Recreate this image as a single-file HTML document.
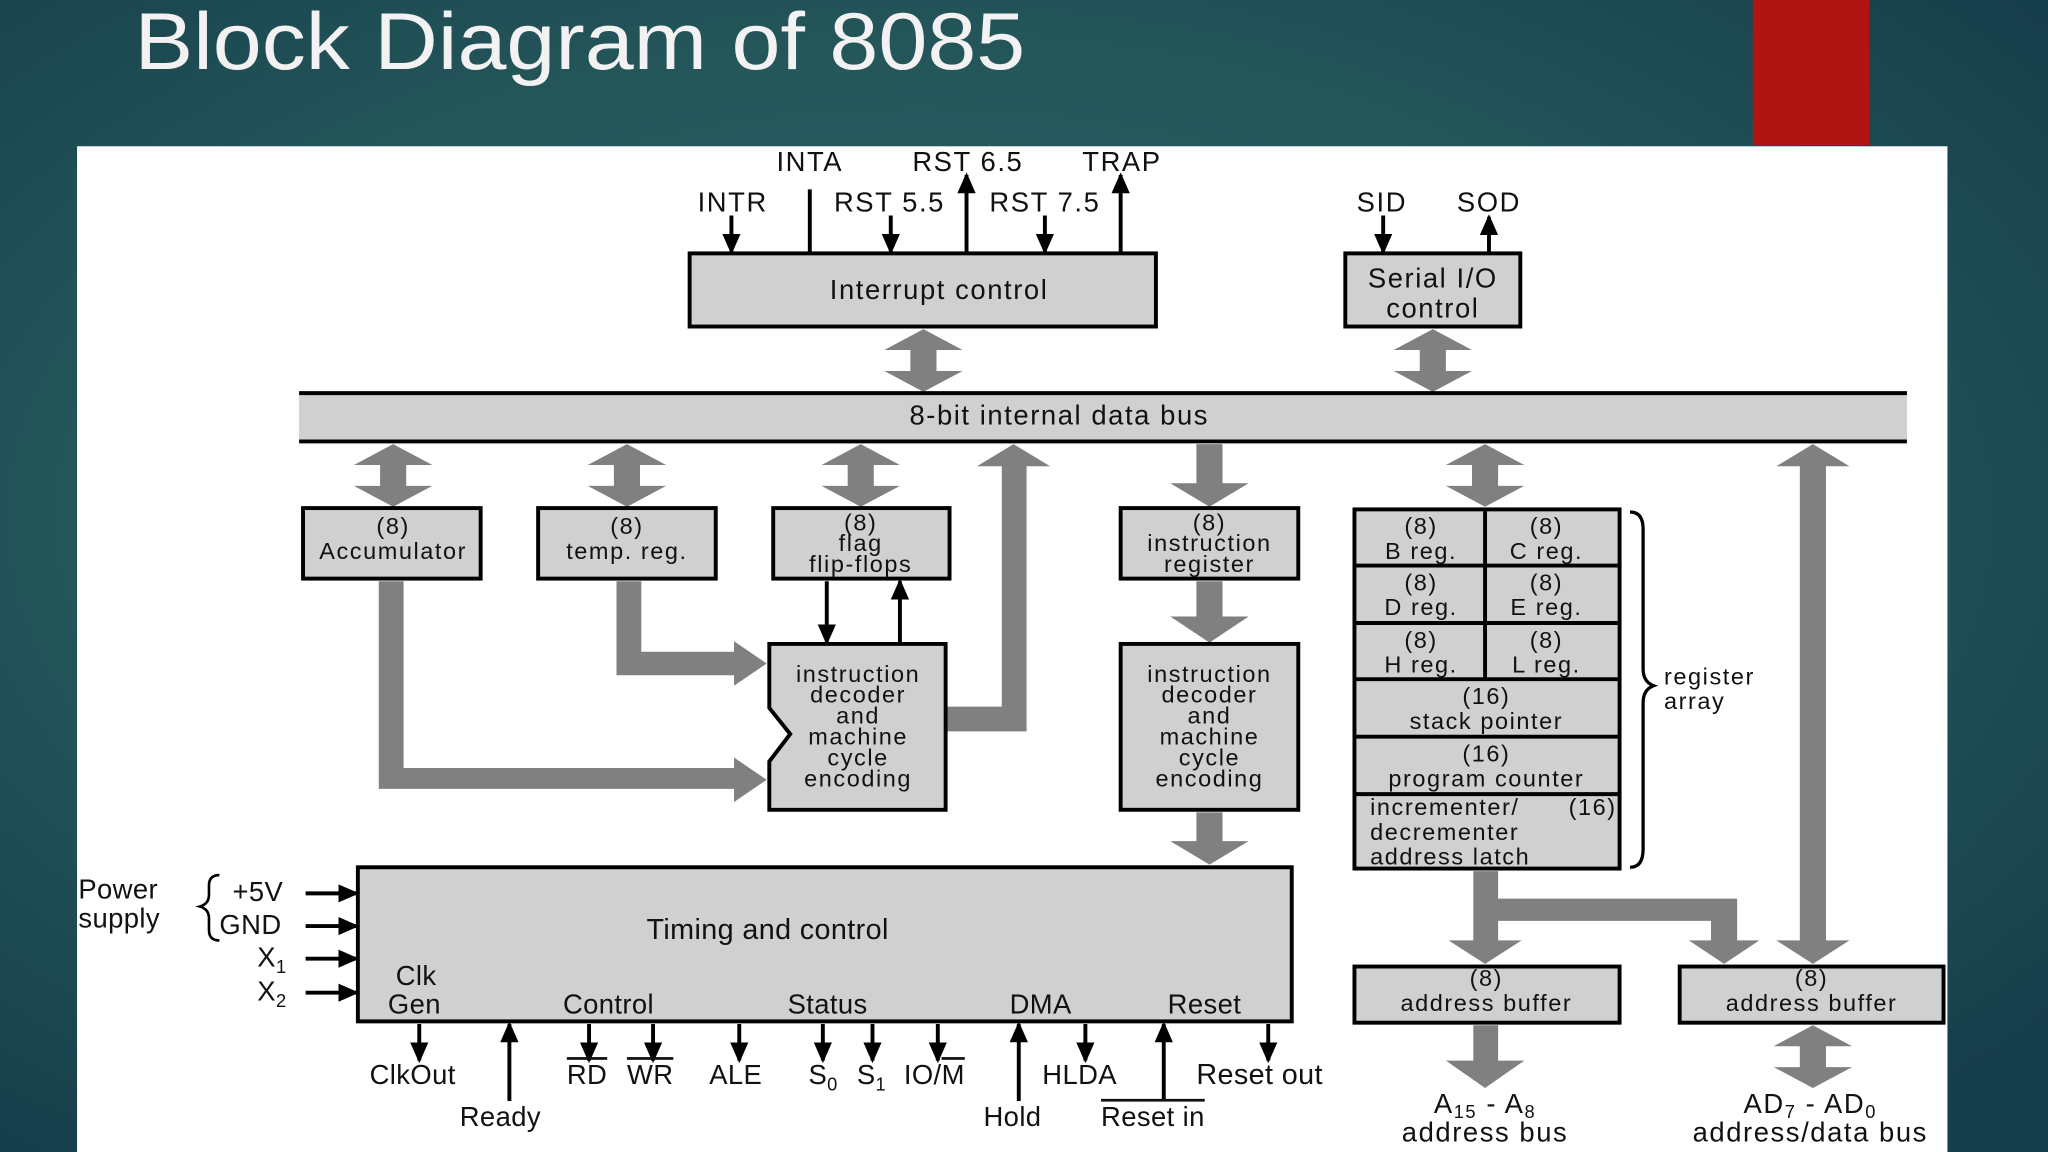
<!DOCTYPE html>
<html><head><meta charset="utf-8"><style>
html,body{margin:0;padding:0;width:2048px;height:1152px;overflow:hidden;background:#1d4853}
svg{display:block}
text{font-family:"Liberation Sans",Arial,sans-serif;fill:#111}
.d text{letter-spacing:1.2px}
</style></head><body>
<svg width="2048" height="1152" viewBox="0 0 1568 882" xmlns="http://www.w3.org/2000/svg">
<defs>
<radialGradient id="bg" cx="0.45" cy="0.45" r="0.7">
<stop offset="0" stop-color="#2e6468"/><stop offset="0.6" stop-color="#235559"/><stop offset="1" stop-color="#173e4b"/>
</radialGradient>
<marker id="ah" markerWidth="16" markerHeight="16" refX="14" refY="8" orient="auto" markerUnits="userSpaceOnUse" viewBox="0 0 16 16"><path d="M0,1 L16,8 L0,15 Z" fill="#000"/></marker>
</defs>
<rect width="1568" height="882" fill="url(#bg)"/>
<rect x="1342" y="0" width="89" height="111" fill="#b01514"/>
<text x="103" y="53" font-size="62" style="fill:#f2f2f2" textLength="682" lengthAdjust="spacingAndGlyphs">Block Diagram of 8085</text>
<rect x="59" y="112" width="1432" height="770" fill="#fff"/>

<g fill="#808080">
<path d="M707,252 L737,268 L717,268 L717,284 L737,284 L707,300 L677,284 L697,284 L697,268 L677,268Z"/>
<path d="M1097,252 L1127,268 L1107,268 L1107,284 L1127,284 L1097,300 L1067,284 L1087,284 L1087,268 L1067,268Z"/>
<path d="M301,340 L331,356 L311,356 L311,372 L331,372 L301,388 L271,372 L291,372 L291,356 L271,356Z"/>
<path d="M480,340 L510,356 L490,356 L490,372 L510,372 L480,388 L450,372 L470,372 L470,356 L450,356Z"/>
<path d="M659,340 L689,356 L669,356 L669,372 L689,372 L659,388 L629,372 L649,372 L649,356 L629,356Z"/>
<path d="M1137,340 L1167,356 L1147,356 L1147,372 L1167,372 L1137,388 L1107,372 L1127,372 L1127,356 L1107,356Z"/>
<path d="M1388,785 L1418,801 L1398,801 L1398,817 L1418,817 L1388,833 L1358,817 L1378,817 L1378,801 L1358,801Z"/>
<path d="M916,340 L936,340 L936,370 L956,370 L926,388 L896,370 L916,370Z"/>
<path d="M916,445 L936,445 L936,472 L956,472 L926,492 L896,472 L916,472Z"/>
<path d="M916,622 L936,622 L936,644 L956,644 L926,662 L896,644 L916,644Z"/>
<path d="M1128,785 L1147,785 L1147,812 L1167,812 L1137,833 L1107,812 L1128,812Z"/>
<path d="M724,541 L767,541 L767,357 L748,357 L776,340 L804,357 L786,357 L786,560 L724,560Z"/>
<path d="M1388,340 L1416,357 L1398,357 L1398,720 L1416,720 L1388,738 L1360,720 L1378,720 L1378,357 L1360,357Z"/>
<path d="M290,445 L309,445 L309,588 L562,588 L562,580 L587,597 L562,614 L562,604 L290,604Z"/>
<path d="M472,445 L491,445 L491,499 L562,499 L562,491 L587,508 L562,525 L562,517 L472,517Z"/>
<path d="M1128,667 L1147,667 L1147,688 L1330,688 L1330,720 L1347,720 L1320,738 L1293,720 L1310,720 L1310,705 L1147,705 L1147,720 L1165,720 L1137,738 L1109,720 L1128,720Z"/>
</g>

<g stroke="#000" stroke-width="3" fill="#d0d0d0">
<rect x="528" y="194" width="357" height="56"/>
<rect x="1030" y="194" width="134" height="56"/>
<rect x="232" y="389" width="136" height="54"/>
<rect x="412" y="389" width="136" height="54"/>
<rect x="592" y="389" width="135" height="54"/>
<rect x="858" y="389" width="136" height="54"/>
<path d="M589,493 L724,493 L724,620 L589,620 L589,583 L605,562 L589,542 Z"/>
<rect x="858" y="493" width="136" height="127"/>
<rect x="1037" y="390" width="203" height="275"/>
<rect x="274" y="664" width="715" height="118"/>
<rect x="1037" y="740" width="203" height="43"/>
<rect x="1286" y="740" width="202" height="43"/>
</g>
<rect x="229" y="301" width="1231" height="37" fill="#d0d0d0"/>
<g stroke="#000" stroke-width="3" fill="none">
<line x1="229" y1="301" x2="1460" y2="301"/><line x1="229" y1="338" x2="1460" y2="338"/>
<line x1="1137" y1="390" x2="1137" y2="520"/>
<line x1="1037" y1="433" x2="1240" y2="433"/>
<line x1="1037" y1="477" x2="1240" y2="477"/>
<line x1="1037" y1="520" x2="1240" y2="520"/>
<line x1="1037" y1="564" x2="1240" y2="564"/>
<line x1="1037" y1="608" x2="1240" y2="608"/>
<path d="M1248,392 Q1258,392 1258,405 L1258,512 Q1258,522 1266,525 Q1258,528 1258,538 L1258,650 Q1258,664 1248,664" stroke-width="2.5"/>
<path d="M168,670 Q160,670 160,678 L160,685 Q160,692 153,694 Q160,696 160,703 L160,712 Q160,720 168,720" stroke-width="2"/>
</g>

<g stroke="#000" stroke-width="3" marker-end="url(#ah)">
<line x1="633" y1="445" x2="633" y2="492"/>
<line x1="689" y1="492" x2="689" y2="445"/>
<line x1="560" y1="165" x2="560" y2="193"/>
<line x1="682" y1="165" x2="682" y2="193"/>
<line x1="740" y1="193" x2="740" y2="134"/>
<line x1="800" y1="165" x2="800" y2="193"/>
<line x1="858" y1="193" x2="858" y2="134"/>
<line x1="1059" y1="165" x2="1059" y2="193"/>
<line x1="1140" y1="193" x2="1140" y2="166"/>
<line x1="234" y1="684" x2="273" y2="684"/>
<line x1="234" y1="709" x2="273" y2="709"/>
<line x1="234" y1="734" x2="273" y2="734"/>
<line x1="234" y1="760" x2="273" y2="760"/>
<line x1="321" y1="784" x2="321" y2="812"/>
<line x1="390" y1="843" x2="390" y2="784"/>
<line x1="451" y1="784" x2="451" y2="812"/>
<line x1="500" y1="784" x2="500" y2="812"/>
<line x1="566" y1="784" x2="566" y2="812"/>
<line x1="630" y1="784" x2="630" y2="812"/>
<line x1="668" y1="784" x2="668" y2="812"/>
<line x1="718" y1="784" x2="718" y2="812"/>
<line x1="780" y1="843" x2="780" y2="784"/>
<line x1="831" y1="784" x2="831" y2="812"/>
<line x1="891" y1="843" x2="891" y2="784"/>
<line x1="971" y1="784" x2="971" y2="812"/>
</g>
<line x1="620" y1="145" x2="620" y2="194" stroke="#000" stroke-width="3"/>

<g class="d">
<g font-size="21" text-anchor="middle">
<text x="620" y="131">INTA</text>
<text x="741" y="131">RST 6.5</text>
<text x="859" y="131">TRAP</text>
<text x="561" y="162">INTR</text>
<text x="681" y="162">RST 5.5</text>
<text x="800" y="162">RST 7.5</text>
<text x="1058" y="162">SID</text>
<text x="1140" y="162">SOD</text>
<text x="719" y="229">Interrupt control</text>
<text x="1097" y="220">Serial I/O</text>
<text x="1097" y="243">control</text>
<text x="811" y="325">8-bit internal data bus</text>
</g>
<g font-size="18" text-anchor="middle">
<text x="301" y="409">(8)</text><text x="301" y="428">Accumulator</text>
<text x="480" y="409">(8)</text><text x="480" y="428">temp. reg.</text>
<text x="659" y="406">(8)</text><text x="659" y="422">flag</text><text x="659" y="438">flip-flops</text>
<text x="926" y="406">(8)</text><text x="926" y="422">instruction</text><text x="926" y="438">register</text>
<text x="657" y="522">instruction</text><text x="657" y="538">decoder</text><text x="657" y="554">and</text><text x="657" y="570">machine</text><text x="657" y="586">cycle</text><text x="657" y="602">encoding</text>
<text x="926" y="522">instruction</text><text x="926" y="538">decoder</text><text x="926" y="554">and</text><text x="926" y="570">machine</text><text x="926" y="586">cycle</text><text x="926" y="602">encoding</text>
<text x="1088" y="409">(8)</text><text x="1088" y="428">B reg.</text>
<text x="1184" y="409">(8)</text><text x="1184" y="428">C reg.</text>
<text x="1088" y="452">(8)</text><text x="1088" y="471">D reg.</text>
<text x="1184" y="452">(8)</text><text x="1184" y="471">E reg.</text>
<text x="1088" y="496">(8)</text><text x="1088" y="515">H reg.</text>
<text x="1184" y="496">(8)</text><text x="1184" y="515">L reg.</text>
<text x="1138" y="539">(16)</text><text x="1138" y="558">stack pointer</text>
<text x="1138" y="583">(16)</text><text x="1138" y="602">program counter</text>
<text x="1138" y="755">(8)</text><text x="1138" y="774">address buffer</text>
<text x="1387" y="755">(8)</text><text x="1387" y="774">address buffer</text>
</g>
<g font-size="18">
<text x="1049" y="624">incrementer/</text><text x="1201" y="624">(16)</text>
<text x="1049" y="643">decrementer</text>
<text x="1049" y="662">address latch</text>
<text x="1274" y="524">register</text><text x="1274" y="543">array</text>
</g>
<g font-size="21" text-anchor="middle">
<text x="1137" y="852">A<tspan font-size="14" dy="4">15</tspan><tspan dy="-4"> - A</tspan><tspan font-size="14" dy="4">8</tspan></text>
<text x="1137" y="874">address bus</text>
<text x="1386" y="852">AD<tspan font-size="14" dy="4">7</tspan><tspan dy="-4"> - AD</tspan><tspan font-size="14" dy="4">0</tspan></text>
<text x="1386" y="874">address/data bus</text>
</g>
</g>
<g font-size="21" style="letter-spacing:0.3px">
<text x="60" y="688">Power</text><text x="60" y="710">supply</text>
<text x="178" y="690">+5V</text>
<text x="168" y="715">GND</text>
<text x="197" y="740">X<tspan font-size="14" dy="5">1</tspan></text>
<text x="197" y="766">X<tspan font-size="14" dy="5">2</tspan></text>
<text x="495" y="719" font-size="22">Timing and control</text>
<text x="303" y="754">Clk</text>
<text x="297" y="776">Gen</text>
<text x="431" y="776">Control</text>
<text x="603" y="776">Status</text>
<text x="773" y="776">DMA</text>
<text x="894" y="776">Reset</text>
<text x="283" y="830">ClkOut</text>
<text x="352" y="862">Ready</text>
<text x="434" y="830" text-decoration="overline">RD</text>
<text x="480" y="830" text-decoration="overline">WR</text>
<text x="543" y="830">ALE</text>
<text x="619" y="830">S<tspan font-size="14" dy="5">0</tspan></text>
<text x="656" y="830">S<tspan font-size="14" dy="5">1</tspan></text>
<text x="692" y="830">IO/<tspan text-decoration="overline">M</tspan></text>
<text x="753" y="862">Hold</text>
<text x="798" y="830">HLDA</text>
<text x="843" y="862" text-decoration="overline">Reset in</text>
<text x="916" y="830" font-size="22">Reset out</text>
</g>
</svg>
</body></html>
